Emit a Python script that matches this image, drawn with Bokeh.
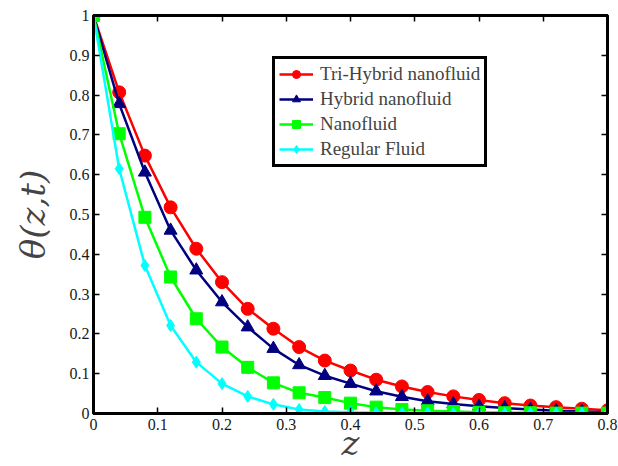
from bokeh.plotting import figure
from bokeh.models import LinearAxis, Legend, LegendItem, FixedTicker, Range1d
from bokeh.embed import file_html
from bokeh.resources import INLINE

z = [0.0, 0.04, 0.08, 0.12, 0.16, 0.20, 0.24, 0.28, 0.32, 0.36, 0.40,
     0.44, 0.48, 0.52, 0.56, 0.60, 0.64, 0.68, 0.72, 0.76, 0.80]
tri_hybrid = [1.0, 0.807, 0.648, 0.518, 0.414, 0.330, 0.263, 0.213, 0.167, 0.133, 0.108,
              0.085, 0.068, 0.054, 0.043, 0.034, 0.026, 0.020, 0.016, 0.012, 0.008]
hybrid = [1.0, 0.778, 0.606, 0.460, 0.360, 0.280, 0.217, 0.163, 0.122, 0.095, 0.075,
          0.056, 0.042, 0.031, 0.024, 0.018, 0.014, 0.010, 0.007, 0.005, 0.003]
nanofluid = [1.0, 0.703, 0.493, 0.343, 0.238, 0.167, 0.116, 0.077, 0.052, 0.040, 0.026,
             0.016, 0.010, 0.007, 0.005, 0.003, 0.002, 0.002, 0.001, 0.001, 0.001]
regular = [1.0, 0.615, 0.372, 0.221, 0.129, 0.075, 0.043, 0.023, 0.010, 0.005, 0.003,
           0.002, 0.001, 0.001, 0.0, 0.0, 0.0, 0.0, 0.0, 0.0, 0.0]

x_ticks = [0, 0.1, 0.2, 0.3, 0.4, 0.5, 0.6, 0.7, 0.8]
x_tick_labels = ["0", "0.1", "0.2", "0.3", "0.4", "0.5", "0.6", "0.7", "0.8"]
y_ticks = [0, 0.1, 0.2, 0.3, 0.4, 0.5, 0.6, 0.7, 0.8, 0.9, 1.0]
y_tick_labels = ["0", "0.1", "0.2", "0.3", "0.4", "0.5", "0.6", "0.7", "0.8", "0.9", "1"]
x_title = "z"
y_title = "θ(z,t)"

series = [
    ("Tri-Hybrid nanofluid", tri_hybrid, "#FF0000", "circle", 13),
    ("Hybrid nanofluid", hybrid, "#000080", "triangle", 13),
    ("Nanofluid", nanofluid, "#00FF00", "square", 12),
    ("Regular Fluid", regular, "#00FFFF", "diamond", 12),
]

FONT = "Liberation Serif"

p = figure(width=618, height=466, output_backend="svg", toolbar_location=None,
           x_range=Range1d(0, 0.8), y_range=Range1d(0, 1),
           min_border_left=93, min_border_right=11, min_border_top=15, min_border_bottom=53)
p.xgrid.visible = False
p.ygrid.visible = False
p.outline_line_color = "black"
p.outline_line_alpha = 1
p.outline_line_width = 3
p.background_fill_color = "white"
p.border_fill_color = "white"

items = []
for name, vals, color, marker, size in series:
    r1 = p.line(z, vals, line_color=color, line_width=2.5)
    r2 = p.scatter(z, vals, marker=marker, size=size, fill_color=color, line_color=color)
    items.append(LegendItem(label=name, renderers=[r1, r2]))

for ax, ticks, labels in ((p.xaxis[0], x_ticks, x_tick_labels), (p.yaxis[0], y_ticks, y_tick_labels)):
    ax.ticker = FixedTicker(ticks=ticks)
    ax.major_label_overrides = {t: l for t, l in zip(ticks, labels)}
    ax.axis_line_width = 3
    ax.axis_line_color = "black"
    ax.major_tick_in = 6
    ax.major_tick_out = 0
    ax.minor_tick_in = 0
    ax.minor_tick_out = 0
    ax.major_tick_line_width = 1.5
    ax.major_label_text_font = FONT
    ax.major_label_text_font_size = "16px"
    ax.major_label_text_color = "#1a1a1a"

p.xaxis.major_label_standoff = 5
p.yaxis.major_label_standoff = 4

p.xaxis.axis_label = x_title
p.xaxis.axis_label_text_font = "DejaVu Serif"
p.xaxis.axis_label_text_font_style = "italic"
p.xaxis.axis_label_text_font_size = "34px"
p.xaxis.axis_label_standoff = -10

p.yaxis.axis_label = y_title
p.yaxis.axis_label_text_font = "DejaVu Serif"
p.yaxis.axis_label_text_font_style = "italic"
p.yaxis.axis_label_text_font_size = "34px"
p.yaxis.axis_label_standoff = 14

top = LinearAxis(ticker=FixedTicker(ticks=x_ticks))
right = LinearAxis(ticker=FixedTicker(ticks=y_ticks))
for ax, ticks in ((top, x_ticks), (right, y_ticks)):
    ax.major_label_overrides = {t: "" for t in ticks}
    ax.major_label_standoff = 0
    ax.major_label_text_font_size = "8px"
    ax.axis_line_width = 3
    ax.axis_line_color = "black"
    ax.major_tick_in = 6
    ax.major_tick_out = 0
    ax.minor_tick_in = 0
    ax.minor_tick_out = 0
    ax.major_tick_line_width = 1.5
p.add_layout(top, "above")
p.add_layout(right, "right")

legend = Legend(items=items, location=(179, 246))
legend.label_text_font = FONT
legend.label_text_font_size = "19px"
legend.border_line_color = "black"
legend.border_line_alpha = 1
legend.border_line_width = 3
legend.glyph_width = 34
legend.glyph_height = 20
legend.label_height = 20
legend.spacing = 3
legend.padding = 4
legend.margin = 0
legend.label_standoff = 7
legend.background_fill_alpha = 1
p.add_layout(legend, "center")

open("out.html", "w").write(file_html(p, INLINE))
